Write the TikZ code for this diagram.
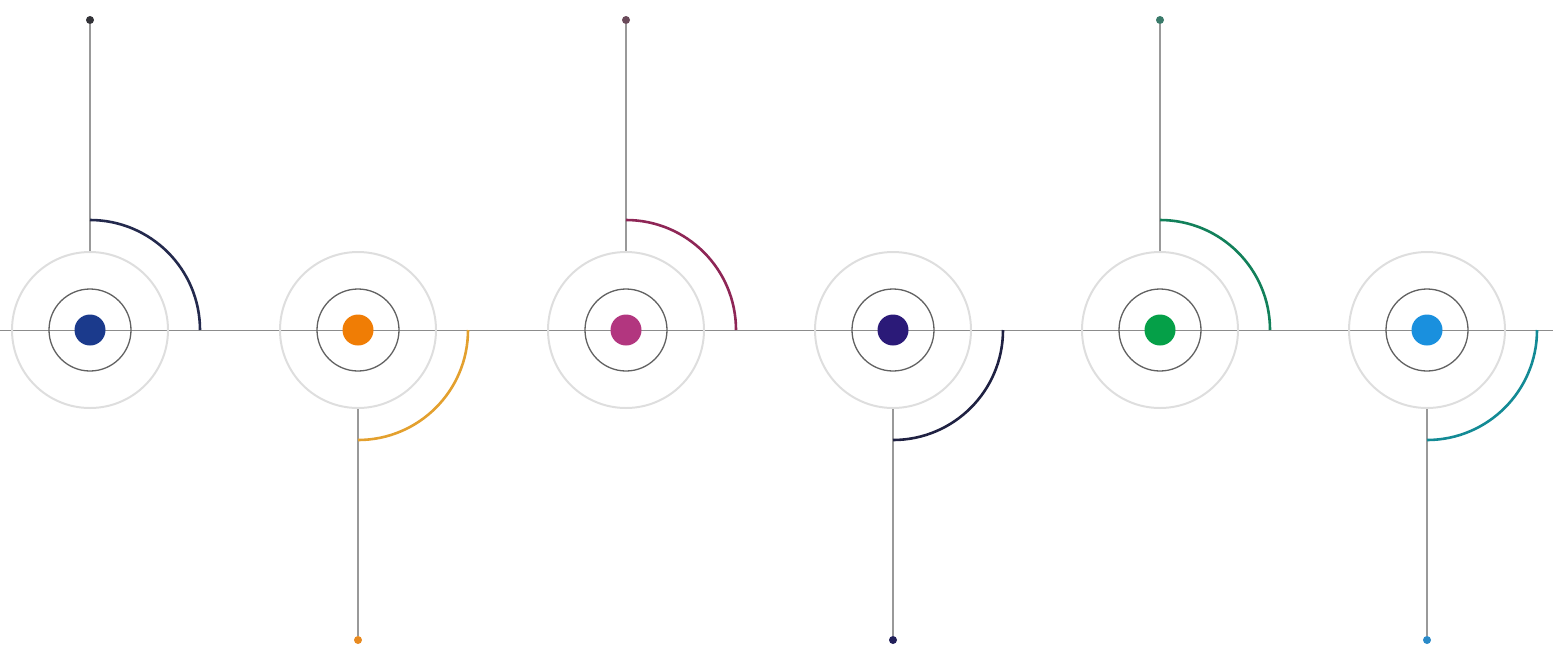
\documentclass[tikz,border=0pt]{standalone}
\begin{document}
\begin{tikzpicture}[x=1pt,y=-1pt,
  outerring/.style={circle,draw=black!13,line width=2pt,minimum size=156pt,inner sep=0pt},
  innerring/.style={circle,draw=black!62,line width=1.3pt,minimum size=82pt,inner sep=0pt},
  core/.style={circle,fill=#1,minimum size=31pt,inner sep=0pt},
  enddot/.style={circle,fill=#1,minimum size=8pt,inner sep=0pt},
  stem/.style={draw=black!40,line width=1.1pt},
  axis/.style={draw=black!45,line width=0.9pt},
  arcline/.style={draw=#1,line width=2.6pt}]
\useasboundingbox (0,0) rectangle (1553,649);
\definecolor{cA}{HTML}{1B3A8C}\definecolor{aA}{HTML}{23294D}\definecolor{tA}{HTML}{333338}
\definecolor{cB}{HTML}{F07D05}\definecolor{aB}{HTML}{E3A02E}\definecolor{tB}{HTML}{E88A20}
\definecolor{cC}{HTML}{B2367F}\definecolor{aC}{HTML}{8E2656}\definecolor{tC}{HTML}{6A4A5A}
\definecolor{cD}{HTML}{2B1A78}\definecolor{aD}{HTML}{1F2142}\definecolor{tD}{HTML}{22205A}
\definecolor{cE}{HTML}{05A048}\definecolor{aE}{HTML}{12805A}\definecolor{tE}{HTML}{3A7A6A}
\definecolor{cF}{HTML}{1A90DE}\definecolor{aF}{HTML}{138A95}\definecolor{tF}{HTML}{2A8AC8}
\coordinate (L) at (0,330);
\coordinate (R) at (1553,330);
\draw[axis] (L) -- (R);
\foreach \i/\x/\c in {1/90/cA,2/358/cB,3/626/cC,4/893/cD,5/1160/cE,6/1427/cF}{
  \node[outerring] (o\i) at (\x,330) {};
  \node[innerring] (n\i) at (\x,330) {};
  \node[core=\c] (c\i) at (\x,330) {};
}
% top items
\foreach \i/\x/\a/\t in {1/90/aA/tA,3/626/aC/tC,5/1160/aE/tE}{
  \node[enddot=\t] (d\i) at (\x,20) {};
  \draw[stem] (d\i) -- (o\i.north);
  \coordinate (s\i) at (\x,220);
  \draw[arcline=\a] (s\i) arc[start angle=-90,end angle=0,radius=110];
}
% bottom items
\foreach \i/\x/\a/\t in {2/358/aB/tB,4/893/aD/tD,6/1427/aF/tF}{
  \node[enddot=\t] (d\i) at (\x,640) {};
  \draw[stem] (o\i.south) -- (d\i);
  \coordinate (s\i) at (\x+110,330);
  \draw[arcline=\a] (s\i) arc[start angle=0,end angle=90,radius=110];
}
\end{tikzpicture}
\end{document}
